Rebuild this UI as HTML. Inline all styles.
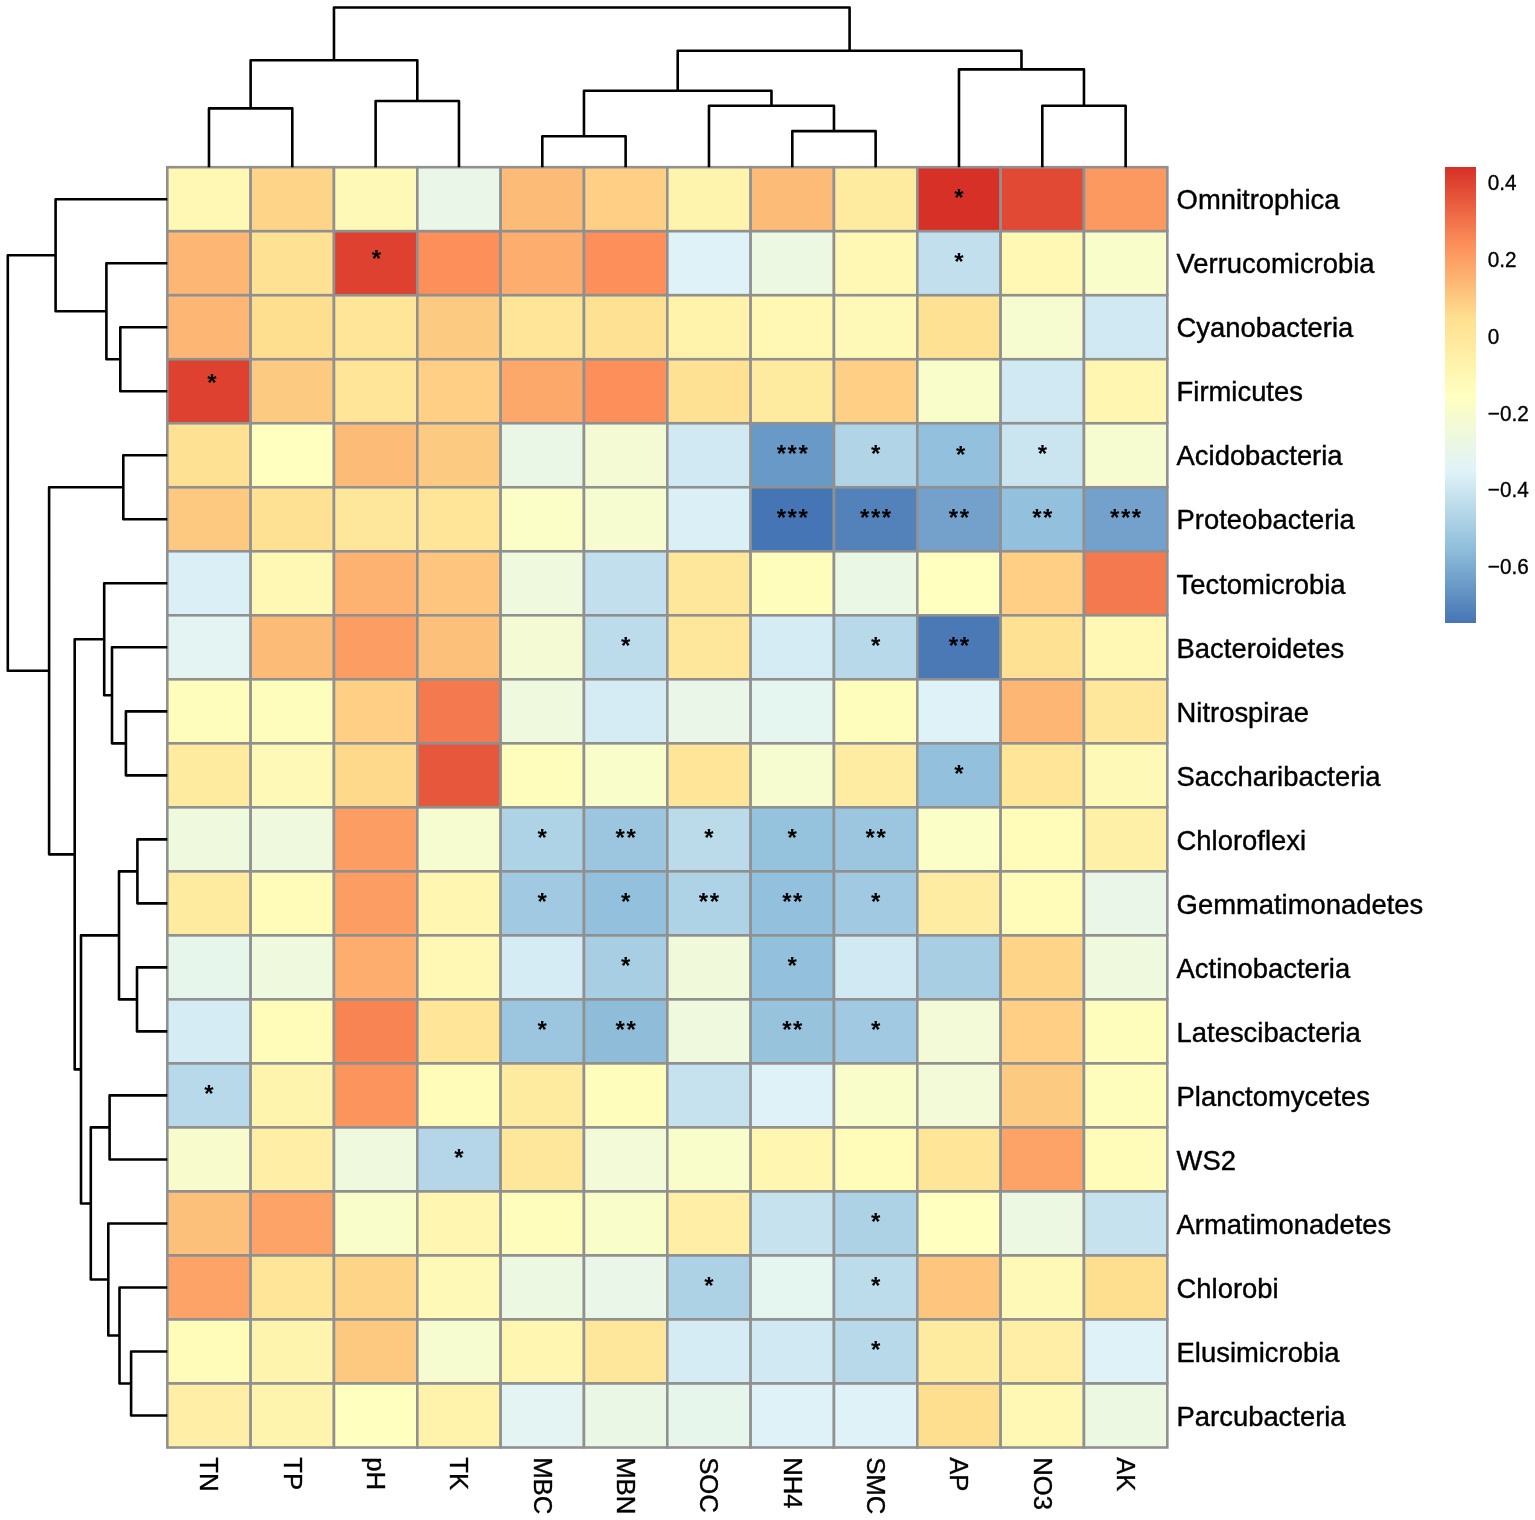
<!DOCTYPE html><html><head><meta charset="utf-8"><style>html,body{margin:0;padding:0;background:#fff;overflow:hidden;}svg{display:block;}text{font-family:"Liberation Sans",Arial,Helvetica,sans-serif;}</style></head><body>
<svg width="1535" height="1520" viewBox="0 0 1535 1520">
<rect width="1535" height="1520" fill="#fff"/>
<g stroke="#909090" stroke-width="2.6">
<rect x="167.30" y="167.20" width="83.33" height="64.02" fill="#FFF8B4"/>
<rect x="250.63" y="167.20" width="83.33" height="64.02" fill="#FED488"/>
<rect x="333.97" y="167.20" width="83.33" height="64.02" fill="#FFF9B7"/>
<rect x="417.30" y="167.20" width="83.33" height="64.02" fill="#E9F6E8"/>
<rect x="500.63" y="167.20" width="83.33" height="64.02" fill="#FDBB78"/>
<rect x="583.97" y="167.20" width="83.33" height="64.02" fill="#FECF85"/>
<rect x="667.30" y="167.20" width="83.33" height="64.02" fill="#FFF4AE"/>
<rect x="750.63" y="167.20" width="83.33" height="64.02" fill="#FDBB78"/>
<rect x="833.97" y="167.20" width="83.33" height="64.02" fill="#FEEBA0"/>
<rect x="917.30" y="167.20" width="83.33" height="64.02" fill="#D73027"/>
<rect x="1000.63" y="167.20" width="83.33" height="64.02" fill="#E14935"/>
<rect x="1083.97" y="167.20" width="83.33" height="64.02" fill="#FC9961"/>
<rect x="167.30" y="231.21" width="83.33" height="64.02" fill="#FDB674"/>
<rect x="250.63" y="231.21" width="83.33" height="64.02" fill="#FEE192"/>
<rect x="333.97" y="231.21" width="83.33" height="64.02" fill="#DE4130"/>
<rect x="417.30" y="231.21" width="83.33" height="64.02" fill="#FC8F5A"/>
<rect x="500.63" y="231.21" width="83.33" height="64.02" fill="#FDAD6E"/>
<rect x="583.97" y="231.21" width="83.33" height="64.02" fill="#FC8F5A"/>
<rect x="667.30" y="231.21" width="83.33" height="64.02" fill="#DEF2F7"/>
<rect x="750.63" y="231.21" width="83.33" height="64.02" fill="#ECF8E1"/>
<rect x="833.97" y="231.21" width="83.33" height="64.02" fill="#FFF8B4"/>
<rect x="917.30" y="231.21" width="83.33" height="64.02" fill="#C2DFED"/>
<rect x="1000.63" y="231.21" width="83.33" height="64.02" fill="#FFF8B4"/>
<rect x="1083.97" y="231.21" width="83.33" height="64.02" fill="#F9FDC9"/>
<rect x="167.30" y="295.23" width="83.33" height="64.02" fill="#FDB674"/>
<rect x="250.63" y="295.23" width="83.33" height="64.02" fill="#FEDE8F"/>
<rect x="333.97" y="295.23" width="83.33" height="64.02" fill="#FEE598"/>
<rect x="417.30" y="295.23" width="83.33" height="64.02" fill="#FDCA82"/>
<rect x="500.63" y="295.23" width="83.33" height="64.02" fill="#FEE598"/>
<rect x="583.97" y="295.23" width="83.33" height="64.02" fill="#FEE192"/>
<rect x="667.30" y="295.23" width="83.33" height="64.02" fill="#FFF2AB"/>
<rect x="750.63" y="295.23" width="83.33" height="64.02" fill="#FFF8B4"/>
<rect x="833.97" y="295.23" width="83.33" height="64.02" fill="#FFF9B7"/>
<rect x="917.30" y="295.23" width="83.33" height="64.02" fill="#FEE192"/>
<rect x="1000.63" y="295.23" width="83.33" height="64.02" fill="#F6FBD0"/>
<rect x="1083.97" y="295.23" width="83.33" height="64.02" fill="#D0E9F2"/>
<rect x="167.30" y="359.25" width="83.33" height="64.02" fill="#DE4130"/>
<rect x="250.63" y="359.25" width="83.33" height="64.02" fill="#FDCA82"/>
<rect x="333.97" y="359.25" width="83.33" height="64.02" fill="#FEE598"/>
<rect x="417.30" y="359.25" width="83.33" height="64.02" fill="#FECF85"/>
<rect x="500.63" y="359.25" width="83.33" height="64.02" fill="#FDA86B"/>
<rect x="583.97" y="359.25" width="83.33" height="64.02" fill="#FC8F5A"/>
<rect x="667.30" y="359.25" width="83.33" height="64.02" fill="#FEE192"/>
<rect x="750.63" y="359.25" width="83.33" height="64.02" fill="#FEEBA0"/>
<rect x="833.97" y="359.25" width="83.33" height="64.02" fill="#FECF85"/>
<rect x="917.30" y="359.25" width="83.33" height="64.02" fill="#F9FDC9"/>
<rect x="1000.63" y="359.25" width="83.33" height="64.02" fill="#D0E9F2"/>
<rect x="1083.97" y="359.25" width="83.33" height="64.02" fill="#FFF6B1"/>
<rect x="167.30" y="423.26" width="83.33" height="64.02" fill="#FEE192"/>
<rect x="250.63" y="423.26" width="83.33" height="64.02" fill="#FFFFBF"/>
<rect x="333.97" y="423.26" width="83.33" height="64.02" fill="#FDBB78"/>
<rect x="417.30" y="423.26" width="83.33" height="64.02" fill="#FDCA82"/>
<rect x="500.63" y="423.26" width="83.33" height="64.02" fill="#EAF7E6"/>
<rect x="583.97" y="423.26" width="83.33" height="64.02" fill="#F4FBD4"/>
<rect x="667.30" y="423.26" width="83.33" height="64.02" fill="#D0E9F2"/>
<rect x="750.63" y="423.26" width="83.33" height="64.02" fill="#6999C7"/>
<rect x="833.97" y="423.26" width="83.33" height="64.02" fill="#B1D4E7"/>
<rect x="917.30" y="423.26" width="83.33" height="64.02" fill="#93C0DC"/>
<rect x="1000.63" y="423.26" width="83.33" height="64.02" fill="#CBE5F0"/>
<rect x="1083.97" y="423.26" width="83.33" height="64.02" fill="#F6FBD0"/>
<rect x="167.30" y="487.27" width="83.33" height="64.02" fill="#FDC880"/>
<rect x="250.63" y="487.27" width="83.33" height="64.02" fill="#FEE192"/>
<rect x="333.97" y="487.27" width="83.33" height="64.02" fill="#FEE79A"/>
<rect x="417.30" y="487.27" width="83.33" height="64.02" fill="#FEE598"/>
<rect x="500.63" y="487.27" width="83.33" height="64.02" fill="#FBFEC6"/>
<rect x="583.97" y="487.27" width="83.33" height="64.02" fill="#F6FBD0"/>
<rect x="667.30" y="487.27" width="83.33" height="64.02" fill="#DAEFF6"/>
<rect x="750.63" y="487.27" width="83.33" height="64.02" fill="#4575B4"/>
<rect x="833.97" y="487.27" width="83.33" height="64.02" fill="#5382BB"/>
<rect x="917.30" y="487.27" width="83.33" height="64.02" fill="#73A1CB"/>
<rect x="1000.63" y="487.27" width="83.33" height="64.02" fill="#93C0DC"/>
<rect x="1083.97" y="487.27" width="83.33" height="64.02" fill="#73A1CB"/>
<rect x="167.30" y="551.29" width="83.33" height="64.02" fill="#DAEFF6"/>
<rect x="250.63" y="551.29" width="83.33" height="64.02" fill="#FFF8B4"/>
<rect x="333.97" y="551.29" width="83.33" height="64.02" fill="#FDB271"/>
<rect x="417.30" y="551.29" width="83.33" height="64.02" fill="#FDC57E"/>
<rect x="500.63" y="551.29" width="83.33" height="64.02" fill="#EEF9DE"/>
<rect x="583.97" y="551.29" width="83.33" height="64.02" fill="#C2DFED"/>
<rect x="667.30" y="551.29" width="83.33" height="64.02" fill="#FEE79A"/>
<rect x="750.63" y="551.29" width="83.33" height="64.02" fill="#FFFDBC"/>
<rect x="833.97" y="551.29" width="83.33" height="64.02" fill="#EBF7E5"/>
<rect x="917.30" y="551.29" width="83.33" height="64.02" fill="#FFFFBF"/>
<rect x="1000.63" y="551.29" width="83.33" height="64.02" fill="#FECF85"/>
<rect x="1083.97" y="551.29" width="83.33" height="64.02" fill="#F4794E"/>
<rect x="167.30" y="615.31" width="83.33" height="64.02" fill="#E3F4F2"/>
<rect x="250.63" y="615.31" width="83.33" height="64.02" fill="#FDBB78"/>
<rect x="333.97" y="615.31" width="83.33" height="64.02" fill="#FC9E64"/>
<rect x="417.30" y="615.31" width="83.33" height="64.02" fill="#FDC07B"/>
<rect x="500.63" y="615.31" width="83.33" height="64.02" fill="#F4FBD4"/>
<rect x="583.97" y="615.31" width="83.33" height="64.02" fill="#BDDCEB"/>
<rect x="667.30" y="615.31" width="83.33" height="64.02" fill="#FEE79A"/>
<rect x="750.63" y="615.31" width="83.33" height="64.02" fill="#D5ECF4"/>
<rect x="833.97" y="615.31" width="83.33" height="64.02" fill="#B8D9EA"/>
<rect x="917.30" y="615.31" width="83.33" height="64.02" fill="#4A79B6"/>
<rect x="1000.63" y="615.31" width="83.33" height="64.02" fill="#FEE192"/>
<rect x="1083.97" y="615.31" width="83.33" height="64.02" fill="#FFF8B4"/>
<rect x="167.30" y="679.32" width="83.33" height="64.02" fill="#FFFDBC"/>
<rect x="250.63" y="679.32" width="83.33" height="64.02" fill="#FFFDBC"/>
<rect x="333.97" y="679.32" width="83.33" height="64.02" fill="#FECF85"/>
<rect x="417.30" y="679.32" width="83.33" height="64.02" fill="#F4794E"/>
<rect x="500.63" y="679.32" width="83.33" height="64.02" fill="#EEF9DE"/>
<rect x="583.97" y="679.32" width="83.33" height="64.02" fill="#D5ECF4"/>
<rect x="667.30" y="679.32" width="83.33" height="64.02" fill="#E9F6E8"/>
<rect x="750.63" y="679.32" width="83.33" height="64.02" fill="#E5F5EF"/>
<rect x="833.97" y="679.32" width="83.33" height="64.02" fill="#FFFDBC"/>
<rect x="917.30" y="679.32" width="83.33" height="64.02" fill="#DEF2F7"/>
<rect x="1000.63" y="679.32" width="83.33" height="64.02" fill="#FDB674"/>
<rect x="1083.97" y="679.32" width="83.33" height="64.02" fill="#FEE79A"/>
<rect x="167.30" y="743.34" width="83.33" height="64.02" fill="#FEEBA0"/>
<rect x="250.63" y="743.34" width="83.33" height="64.02" fill="#FFF9B7"/>
<rect x="333.97" y="743.34" width="83.33" height="64.02" fill="#FED98C"/>
<rect x="417.30" y="743.34" width="83.33" height="64.02" fill="#E7573C"/>
<rect x="500.63" y="743.34" width="83.33" height="64.02" fill="#FFFDBC"/>
<rect x="583.97" y="743.34" width="83.33" height="64.02" fill="#F9FDC9"/>
<rect x="667.30" y="743.34" width="83.33" height="64.02" fill="#FEE598"/>
<rect x="750.63" y="743.34" width="83.33" height="64.02" fill="#F6FBD0"/>
<rect x="833.97" y="743.34" width="83.33" height="64.02" fill="#FEECA3"/>
<rect x="917.30" y="743.34" width="83.33" height="64.02" fill="#93C0DC"/>
<rect x="1000.63" y="743.34" width="83.33" height="64.02" fill="#FEE598"/>
<rect x="1083.97" y="743.34" width="83.33" height="64.02" fill="#FFF9B7"/>
<rect x="167.30" y="807.35" width="83.33" height="64.02" fill="#EEF9DE"/>
<rect x="250.63" y="807.35" width="83.33" height="64.02" fill="#EEF9DE"/>
<rect x="333.97" y="807.35" width="83.33" height="64.02" fill="#FC9E64"/>
<rect x="417.30" y="807.35" width="83.33" height="64.02" fill="#F6FBD0"/>
<rect x="500.63" y="807.35" width="83.33" height="64.02" fill="#AFD3E6"/>
<rect x="583.97" y="807.35" width="83.33" height="64.02" fill="#9CC6DF"/>
<rect x="667.30" y="807.35" width="83.33" height="64.02" fill="#BBDBEA"/>
<rect x="750.63" y="807.35" width="83.33" height="64.02" fill="#95C2DC"/>
<rect x="833.97" y="807.35" width="83.33" height="64.02" fill="#9CC6DF"/>
<rect x="917.30" y="807.35" width="83.33" height="64.02" fill="#FBFEC6"/>
<rect x="1000.63" y="807.35" width="83.33" height="64.02" fill="#FFFBB9"/>
<rect x="1083.97" y="807.35" width="83.33" height="64.02" fill="#FFF0A8"/>
<rect x="167.30" y="871.37" width="83.33" height="64.02" fill="#FEEBA0"/>
<rect x="250.63" y="871.37" width="83.33" height="64.02" fill="#FFFBB9"/>
<rect x="333.97" y="871.37" width="83.33" height="64.02" fill="#FC9E64"/>
<rect x="417.30" y="871.37" width="83.33" height="64.02" fill="#FFF6B1"/>
<rect x="500.63" y="871.37" width="83.33" height="64.02" fill="#A1C9E1"/>
<rect x="583.97" y="871.37" width="83.33" height="64.02" fill="#93C0DC"/>
<rect x="667.30" y="871.37" width="83.33" height="64.02" fill="#AFD3E6"/>
<rect x="750.63" y="871.37" width="83.33" height="64.02" fill="#93C0DC"/>
<rect x="833.97" y="871.37" width="83.33" height="64.02" fill="#A1C9E1"/>
<rect x="917.30" y="871.37" width="83.33" height="64.02" fill="#FEECA3"/>
<rect x="1000.63" y="871.37" width="83.33" height="64.02" fill="#FFFBB9"/>
<rect x="1083.97" y="871.37" width="83.33" height="64.02" fill="#E9F6E8"/>
<rect x="167.30" y="935.38" width="83.33" height="64.02" fill="#E7F6EB"/>
<rect x="250.63" y="935.38" width="83.33" height="64.02" fill="#EEF9DE"/>
<rect x="333.97" y="935.38" width="83.33" height="64.02" fill="#FDAD6E"/>
<rect x="417.30" y="935.38" width="83.33" height="64.02" fill="#FFF8B4"/>
<rect x="500.63" y="935.38" width="83.33" height="64.02" fill="#D5ECF4"/>
<rect x="583.97" y="935.38" width="83.33" height="64.02" fill="#A8CEE3"/>
<rect x="667.30" y="935.38" width="83.33" height="64.02" fill="#F0F9DA"/>
<rect x="750.63" y="935.38" width="83.33" height="64.02" fill="#93C0DC"/>
<rect x="833.97" y="935.38" width="83.33" height="64.02" fill="#D0E9F2"/>
<rect x="917.30" y="935.38" width="83.33" height="64.02" fill="#A8CEE3"/>
<rect x="1000.63" y="935.38" width="83.33" height="64.02" fill="#FED488"/>
<rect x="1083.97" y="935.38" width="83.33" height="64.02" fill="#EEF9DE"/>
<rect x="167.30" y="999.39" width="83.33" height="64.02" fill="#D5ECF4"/>
<rect x="250.63" y="999.39" width="83.33" height="64.02" fill="#FFFBB9"/>
<rect x="333.97" y="999.39" width="83.33" height="64.02" fill="#F88454"/>
<rect x="417.30" y="999.39" width="83.33" height="64.02" fill="#FEE598"/>
<rect x="500.63" y="999.39" width="83.33" height="64.02" fill="#9CC6DF"/>
<rect x="583.97" y="999.39" width="83.33" height="64.02" fill="#8EBCD9"/>
<rect x="667.30" y="999.39" width="83.33" height="64.02" fill="#EEF9DE"/>
<rect x="750.63" y="999.39" width="83.33" height="64.02" fill="#97C3DD"/>
<rect x="833.97" y="999.39" width="83.33" height="64.02" fill="#A1C9E1"/>
<rect x="917.30" y="999.39" width="83.33" height="64.02" fill="#F2FAD7"/>
<rect x="1000.63" y="999.39" width="83.33" height="64.02" fill="#FECF85"/>
<rect x="1083.97" y="999.39" width="83.33" height="64.02" fill="#FFFDBC"/>
<rect x="167.30" y="1063.41" width="83.33" height="64.02" fill="#B8D9EA"/>
<rect x="250.63" y="1063.41" width="83.33" height="64.02" fill="#FFF4AE"/>
<rect x="333.97" y="1063.41" width="83.33" height="64.02" fill="#FC945D"/>
<rect x="417.30" y="1063.41" width="83.33" height="64.02" fill="#FFFBB9"/>
<rect x="500.63" y="1063.41" width="83.33" height="64.02" fill="#FEEBA0"/>
<rect x="583.97" y="1063.41" width="83.33" height="64.02" fill="#FFFDBC"/>
<rect x="667.30" y="1063.41" width="83.33" height="64.02" fill="#C7E2EF"/>
<rect x="750.63" y="1063.41" width="83.33" height="64.02" fill="#DEF2F7"/>
<rect x="833.97" y="1063.41" width="83.33" height="64.02" fill="#F9FDC9"/>
<rect x="917.30" y="1063.41" width="83.33" height="64.02" fill="#F2FAD7"/>
<rect x="1000.63" y="1063.41" width="83.33" height="64.02" fill="#FDCA82"/>
<rect x="1083.97" y="1063.41" width="83.33" height="64.02" fill="#FFFDBC"/>
<rect x="167.30" y="1127.42" width="83.33" height="64.02" fill="#F8FCCD"/>
<rect x="250.63" y="1127.42" width="83.33" height="64.02" fill="#FEEEA6"/>
<rect x="333.97" y="1127.42" width="83.33" height="64.02" fill="#EEF9DE"/>
<rect x="417.30" y="1127.42" width="83.33" height="64.02" fill="#B4D6E8"/>
<rect x="500.63" y="1127.42" width="83.33" height="64.02" fill="#FEE79A"/>
<rect x="583.97" y="1127.42" width="83.33" height="64.02" fill="#F2FAD7"/>
<rect x="667.30" y="1127.42" width="83.33" height="64.02" fill="#F9FDC9"/>
<rect x="750.63" y="1127.42" width="83.33" height="64.02" fill="#FFF6B1"/>
<rect x="833.97" y="1127.42" width="83.33" height="64.02" fill="#FFFBB9"/>
<rect x="917.30" y="1127.42" width="83.33" height="64.02" fill="#FEE598"/>
<rect x="1000.63" y="1127.42" width="83.33" height="64.02" fill="#FDA367"/>
<rect x="1083.97" y="1127.42" width="83.33" height="64.02" fill="#FFFBB9"/>
<rect x="167.30" y="1191.44" width="83.33" height="64.02" fill="#FDC07B"/>
<rect x="250.63" y="1191.44" width="83.33" height="64.02" fill="#FDA367"/>
<rect x="333.97" y="1191.44" width="83.33" height="64.02" fill="#F9FDC9"/>
<rect x="417.30" y="1191.44" width="83.33" height="64.02" fill="#FFF6B1"/>
<rect x="500.63" y="1191.44" width="83.33" height="64.02" fill="#FFFDBC"/>
<rect x="583.97" y="1191.44" width="83.33" height="64.02" fill="#F9FDC9"/>
<rect x="667.30" y="1191.44" width="83.33" height="64.02" fill="#FEEEA6"/>
<rect x="750.63" y="1191.44" width="83.33" height="64.02" fill="#C7E2EF"/>
<rect x="833.97" y="1191.44" width="83.33" height="64.02" fill="#ADD1E5"/>
<rect x="917.30" y="1191.44" width="83.33" height="64.02" fill="#FFFFBF"/>
<rect x="1000.63" y="1191.44" width="83.33" height="64.02" fill="#ECF8E1"/>
<rect x="1083.97" y="1191.44" width="83.33" height="64.02" fill="#C7E2EF"/>
<rect x="167.30" y="1255.46" width="83.33" height="64.02" fill="#FDA367"/>
<rect x="250.63" y="1255.46" width="83.33" height="64.02" fill="#FEE598"/>
<rect x="333.97" y="1255.46" width="83.33" height="64.02" fill="#FED488"/>
<rect x="417.30" y="1255.46" width="83.33" height="64.02" fill="#FFF9B7"/>
<rect x="500.63" y="1255.46" width="83.33" height="64.02" fill="#ECF8E1"/>
<rect x="583.97" y="1255.46" width="83.33" height="64.02" fill="#E9F6E8"/>
<rect x="667.30" y="1255.46" width="83.33" height="64.02" fill="#ADD1E5"/>
<rect x="750.63" y="1255.46" width="83.33" height="64.02" fill="#E5F5EF"/>
<rect x="833.97" y="1255.46" width="83.33" height="64.02" fill="#BDDCEB"/>
<rect x="917.30" y="1255.46" width="83.33" height="64.02" fill="#FDC57E"/>
<rect x="1000.63" y="1255.46" width="83.33" height="64.02" fill="#FFF9B7"/>
<rect x="1083.97" y="1255.46" width="83.33" height="64.02" fill="#FEDE8F"/>
<rect x="167.30" y="1319.47" width="83.33" height="64.02" fill="#FFFBB9"/>
<rect x="250.63" y="1319.47" width="83.33" height="64.02" fill="#FFF4AE"/>
<rect x="333.97" y="1319.47" width="83.33" height="64.02" fill="#FDC880"/>
<rect x="417.30" y="1319.47" width="83.33" height="64.02" fill="#F6FBD0"/>
<rect x="500.63" y="1319.47" width="83.33" height="64.02" fill="#FFF6B1"/>
<rect x="583.97" y="1319.47" width="83.33" height="64.02" fill="#FEE79A"/>
<rect x="667.30" y="1319.47" width="83.33" height="64.02" fill="#D5ECF4"/>
<rect x="750.63" y="1319.47" width="83.33" height="64.02" fill="#D0E9F2"/>
<rect x="833.97" y="1319.47" width="83.33" height="64.02" fill="#B8D9EA"/>
<rect x="917.30" y="1319.47" width="83.33" height="64.02" fill="#FEEBA0"/>
<rect x="1000.63" y="1319.47" width="83.33" height="64.02" fill="#FEEEA6"/>
<rect x="1083.97" y="1319.47" width="83.33" height="64.02" fill="#DEF2F7"/>
<rect x="167.30" y="1383.49" width="83.33" height="64.02" fill="#FEEEA6"/>
<rect x="250.63" y="1383.49" width="83.33" height="64.02" fill="#FFF4AE"/>
<rect x="333.97" y="1383.49" width="83.33" height="64.02" fill="#FFFFBF"/>
<rect x="417.30" y="1383.49" width="83.33" height="64.02" fill="#FFF2AB"/>
<rect x="500.63" y="1383.49" width="83.33" height="64.02" fill="#E3F4F2"/>
<rect x="583.97" y="1383.49" width="83.33" height="64.02" fill="#EBF7E5"/>
<rect x="667.30" y="1383.49" width="83.33" height="64.02" fill="#E7F6EB"/>
<rect x="750.63" y="1383.49" width="83.33" height="64.02" fill="#DEF2F7"/>
<rect x="833.97" y="1383.49" width="83.33" height="64.02" fill="#DEF2F7"/>
<rect x="917.30" y="1383.49" width="83.33" height="64.02" fill="#FEDE8F"/>
<rect x="1000.63" y="1383.49" width="83.33" height="64.02" fill="#FFF8B4"/>
<rect x="1083.97" y="1383.49" width="83.33" height="64.02" fill="#ECF8E1"/>
</g>
<g font-size="24" font-weight="bold" letter-spacing="1.55" text-anchor="middle" fill="#000">
<text x="959.74" y="206.11">*</text>
<text x="377.27" y="266.70">*</text>
<text x="959.74" y="270.12">*</text>
<text x="212.58" y="391.30">*</text>
<text x="793.07" y="462.17">***</text>
<text x="876.41" y="462.17">*</text>
<text x="961.48" y="462.50">*</text>
<text x="1043.08" y="462.17">*</text>
<text x="793.07" y="526.18">***</text>
<text x="876.41" y="526.18">***</text>
<text x="959.74" y="526.18">**</text>
<text x="1043.08" y="526.18">**</text>
<text x="1126.41" y="526.18">***</text>
<text x="626.41" y="654.21">*</text>
<text x="876.41" y="654.21">*</text>
<text x="959.74" y="654.21">**</text>
<text x="959.74" y="782.24">*</text>
<text x="543.07" y="846.26">*</text>
<text x="626.41" y="846.26">**</text>
<text x="709.74" y="846.26">*</text>
<text x="793.07" y="846.26">*</text>
<text x="876.41" y="846.26">**</text>
<text x="543.07" y="910.27">*</text>
<text x="626.41" y="910.27">*</text>
<text x="709.74" y="910.27">**</text>
<text x="793.07" y="910.27">**</text>
<text x="876.41" y="910.27">*</text>
<text x="626.41" y="974.29">*</text>
<text x="793.07" y="974.29">*</text>
<text x="543.07" y="1038.30">*</text>
<text x="626.41" y="1038.30">**</text>
<text x="793.07" y="1038.30">**</text>
<text x="876.41" y="1038.30">*</text>
<text x="209.74" y="1102.32">*</text>
<text x="459.74" y="1166.33">*</text>
<text x="876.41" y="1230.35">*</text>
<text x="709.74" y="1294.36">*</text>
<text x="876.41" y="1294.36">*</text>
<text x="876.41" y="1358.38">*</text>
</g>
<path d="M208.97 167.20V108.40H292.30V167.20 M375.63 167.20V101.00H458.97V167.20 M250.63 108.40V60.30H417.30V101.00 M542.30 167.20V136.20H625.63V167.20 M792.30 167.20V131.10H875.63V167.20 M708.97 167.20V105.70H833.97V131.10 M583.97 136.20V90.80H771.47V105.70 M1042.30 167.20V105.70H1125.63V167.20 M958.97 167.20V69.40H1083.97V105.70 M677.72 90.80V50.80H1021.47V69.40 M333.97 60.30V7.50H849.59V50.80 M167.30 327.24H120.30V391.25H167.30 M167.30 263.22H106.40V359.25H120.30 M167.30 199.21H55.60V311.23H106.40 M167.30 455.27H123.30V519.28H167.30 M167.30 711.33H125.90V775.34H167.30 M167.30 647.31H112.00V743.34H125.90 M167.30 583.30H104.20V695.32H112.00 M167.30 839.36H137.40V903.37H167.30 M167.30 967.39H137.00V1031.40H167.30 M137.40 871.37H119.00V999.39H137.00 M167.30 1095.42H109.60V1159.43H167.30 M167.30 1351.48H131.10V1415.49H167.30 M167.30 1287.46H119.50V1383.49H131.10 M167.30 1223.45H108.30V1335.47H119.50 M109.60 1127.42H90.80V1279.46H108.30 M119.00 935.38H81.00V1203.44H90.80 M104.20 639.31H74.70V1069.41H81.00 M123.30 487.27H49.10V854.36H74.70 M55.60 255.22H7.80V670.82H49.10" fill="none" stroke="#000" stroke-width="2.60" stroke-linejoin="round" stroke-linecap="butt"/>
<g font-size="27.4" fill="#000" stroke="#000" stroke-width="0.4">
<text x="1176.60" y="209.41">Omnitrophica</text>
<text x="1176.60" y="273.42">Verrucomicrobia</text>
<text x="1176.60" y="337.44">Cyanobacteria</text>
<text x="1176.60" y="401.45">Firmicutes</text>
<text x="1176.60" y="465.47">Acidobacteria</text>
<text x="1176.60" y="529.48">Proteobacteria</text>
<text x="1176.60" y="593.50">Tectomicrobia</text>
<text x="1176.60" y="657.51">Bacteroidetes</text>
<text x="1176.60" y="721.53">Nitrospirae</text>
<text x="1176.60" y="785.54">Saccharibacteria</text>
<text x="1176.60" y="849.56">Chloroflexi</text>
<text x="1176.60" y="913.57">Gemmatimonadetes</text>
<text x="1176.60" y="977.59">Actinobacteria</text>
<text x="1176.60" y="1041.60">Latescibacteria</text>
<text x="1176.60" y="1105.62">Planctomycetes</text>
<text x="1176.60" y="1169.63">WS2</text>
<text x="1176.60" y="1233.65">Armatimonadetes</text>
<text x="1176.60" y="1297.66">Chlorobi</text>
<text x="1176.60" y="1361.68">Elusimicrobia</text>
<text x="1176.60" y="1425.69">Parcubacteria</text>
</g>
<g font-size="25.2" fill="#000" stroke="#000" stroke-width="0.35">
<text transform="translate(200.17 1457.20) rotate(90) scale(1.020 1)" x="0" y="0">TN</text>
<text transform="translate(283.50 1457.20) rotate(90) scale(1.020 1)" x="0" y="0">TP</text>
<text transform="translate(366.83 1457.20) rotate(90) scale(1.020 1)" x="0" y="0">pH</text>
<text transform="translate(450.17 1457.20) rotate(90) scale(1.020 1)" x="0" y="0">TK</text>
<text transform="translate(533.50 1457.20) rotate(90) scale(1.020 1)" x="0" y="0">MBC</text>
<text transform="translate(616.83 1457.20) rotate(90) scale(1.020 1)" x="0" y="0">MBN</text>
<text transform="translate(700.17 1457.20) rotate(90) scale(1.020 1)" x="0" y="0">SOC</text>
<text transform="translate(783.50 1457.20) rotate(90) scale(1.020 1)" x="0" y="0">NH4</text>
<text transform="translate(866.83 1457.20) rotate(90) scale(1.020 1)" x="0" y="0">SMC</text>
<text transform="translate(950.17 1457.20) rotate(90) scale(1.020 1)" x="0" y="0">AP</text>
<text transform="translate(1033.50 1457.20) rotate(90) scale(1.020 1)" x="0" y="0">NO3</text>
<text transform="translate(1116.83 1457.20) rotate(90) scale(1.020 1)" x="0" y="0">AK</text>
</g>
<defs><linearGradient id="lg" x1="0" y1="0" x2="0" y2="1"><stop offset="0.0000" stop-color="#D73027"/><stop offset="0.1667" stop-color="#FC8D59"/><stop offset="0.3333" stop-color="#FEE090"/><stop offset="0.5000" stop-color="#FFFFBF"/><stop offset="0.6667" stop-color="#E0F3F8"/><stop offset="0.8333" stop-color="#91BFDB"/><stop offset="1.0000" stop-color="#4575B4"/></linearGradient></defs>
<rect x="1445" y="167" width="31" height="456" fill="url(#lg)"/>
<g font-size="21.7" fill="#000" stroke="#000" stroke-width="0.35">
<text transform="translate(1487.80 189.80) scale(0.955 1)">0.4</text>
<text transform="translate(1487.80 266.72) scale(0.955 1)">0.2</text>
<text transform="translate(1487.80 343.64) scale(0.955 1)">0</text>
<text transform="translate(1487.80 420.56) scale(0.955 1)">−0.2</text>
<text transform="translate(1487.80 497.48) scale(0.955 1)">−0.4</text>
<text transform="translate(1487.80 574.40) scale(0.955 1)">−0.6</text>
</g>
</svg></body></html>
